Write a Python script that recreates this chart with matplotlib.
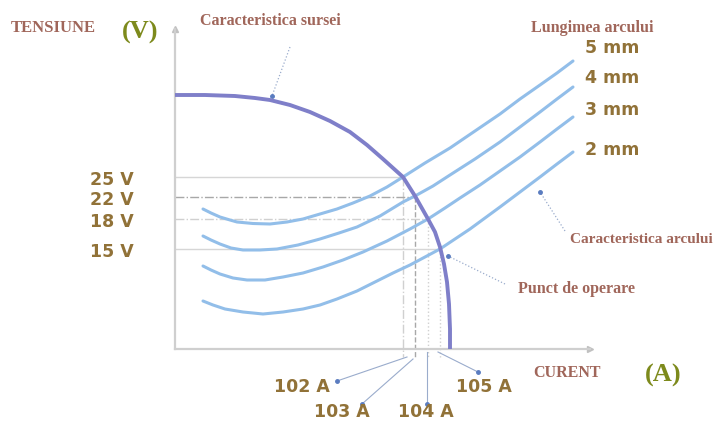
import matplotlib.pyplot as plt

# schematic units: x = current (arbitrary), y = voltage (arbitrary), origin at axes corner
source_x = [0, 30, 60, 80, 95, 115, 135, 155, 175, 192, 208, 218, 228, 240,
            253, 260, 265, 269, 272, 274, 275, 275]
source_y = [254, 254, 253, 251, 249, 244, 237, 228, 217, 204, 190, 181, 172, 153,
            130, 117, 102, 85, 67, 45, 20, 0]

arc_labels = ["5 mm", "4 mm", "3 mm", "2 mm"]
arc_x = [
    [28, 36, 45, 55, 62, 78, 95, 112, 128, 145, 162, 178, 195, 212, 228, 250,
     275, 300, 325, 345, 365, 382, 398],
    [28, 36, 45, 56, 68, 85, 102, 123, 145, 164, 182, 205, 228, 240, 258, 275,
     300, 325, 345, 365, 382, 398],
    [28, 36, 45, 58, 72, 90, 108, 128, 148, 168, 188, 212, 235, 253, 270, 285,
     305, 325, 345, 365, 382, 398],
    [28, 38, 50, 68, 88, 108, 128, 145, 162, 182, 202, 218, 235, 250, 265, 280,
     295, 310, 325, 345, 365, 382, 398],
]
arc_y = [
    [140, 136, 132, 129, 127, 125.5, 125, 127, 130, 135, 140, 146, 153, 162, 172,
     186, 201, 218, 235, 250, 264, 276, 288],
    [113, 109, 105, 101, 99, 99, 100, 104, 110, 116, 122, 133, 147, 153, 163, 174,
     190, 207, 222, 237, 250, 262],
    [83, 79, 75, 71, 69, 69, 72, 76, 82, 89, 97, 108, 120, 130, 141, 151,
     164, 178, 192, 207, 220, 232],
    [48, 44, 40, 37, 35, 37, 40, 44, 50, 58, 68, 76, 84, 92, 100, 110,
     120, 131, 142, 157, 172, 185, 197],
]

op_x = [228, 240, 253, 265]
op_y = [172, 152, 130, 100]
volt_labels = ["25 V", "22 V", "18 V", "15 V"]
amp_labels = ["102 A", "103 A", "104 A", "105 A"]

gold = "#917238"
brown = "#a0665a"
olive = "#7d8a1c"
lead = "#9aaccc"

fig = plt.figure(figsize=(7.18, 4.27), dpi=100)
ax = fig.add_axes([175 / 718, 77 / 427, 415 / 718, 320 / 427])
ax.set_xlim(0, 415)
ax.set_ylim(0, 320)

for s in ["top", "right"]:
    ax.spines[s].set_visible(False)
for s in ["left", "bottom"]:
    ax.spines[s].set_color("#cfcfcf")
    ax.spines[s].set_linewidth(1.6)
ax.plot([0], [320], marker="^", color="#c0c0c0", ms=5, clip_on=False)
ax.plot([415], [0], marker=">", color="#c0c0c0", ms=5, clip_on=False)

ax.set_xticks([])
ax.set_yticks(op_y)
ax.set_yticklabels(volt_labels, family="DejaVu Sans", weight="bold",
                   fontsize=12.5, color=gold)
ax.tick_params(axis="y", length=0, pad=30)

# guide lines
hstyles = [("#d6d6d6", "-"), ("#a8a8a8", "-."), ("#d0d0d0", "-."), ("#d6d6d6", "-")]
vstyles = [("#d0d0d0", "-."), ("#a8a8a8", "--"), ("#d0d0d0", ":"), ("#d0d0d0", ":")]
for i in range(4):
    ax.plot([0, op_x[i]], [op_y[i], op_y[i]], color=hstyles[i][0],
            ls=hstyles[i][1], lw=1.0, zorder=1)
    ax.plot([op_x[i], op_x[i]], [op_y[i], -8], color=vstyles[i][0],
            ls=vstyles[i][1], lw=1.0, zorder=1, clip_on=False)

for xs, ys in zip(arc_x, arc_y):
    ax.plot(xs, ys, color="#92bee9", lw=2.2, solid_capstyle="round", zorder=2)
ax.plot(source_x, source_y, color="#7f7fc9", lw=2.8, zorder=3)

serif = "Liberation Serif"
ax.text(-122, 322, "TENSIUNE", family=serif, weight="bold", fontsize=12,
        color=brown, ha="center", va="center")
ax.text(-35, 318, "(V)", family=serif, weight="bold", fontsize=19,
        color=olive, ha="center", va="center")
ax.text(95, 329, "Caracteristica sursei", family=serif, weight="bold",
        fontsize=11.5, color=brown, ha="center", va="center")
ax.text(417, 322, "Lungimea arcului", family=serif, weight="bold", fontsize=11.5,
        color=brown, ha="center", va="center")
ax.text(395, 110, "Caracteristica arcului", family=serif, weight="bold",
        fontsize=11, color=brown, ha="left", va="center")
ax.text(343, 61, "Punct de operare", family=serif, weight="bold", fontsize=11.5,
        color=brown, ha="left", va="center")
ax.text(392, -23, "CURENT", family=serif, weight="bold", fontsize=11.5,
        color=brown, ha="center", va="center")
ax.text(488, -25, "(A)", family=serif, weight="bold", fontsize=19,
        color=olive, ha="center", va="center")

for lab, y in zip(arc_labels, [302, 272, 240, 200]):
    ax.text(410, y, lab, family="DejaVu Sans", weight="bold", fontsize=12.5,
            color=gold, ha="left", va="center")

amp_pos = [(127, -37), (167, -62), (251, -62), (309, -37)]
amp_lead = [((232, -8), (162, -32)), ((238, -10), (187, -55)),
            ((252, -3), (252, -55)), ((263, -3), (303, -23))]
for lab, (tx, ty), (p0, p1) in zip(amp_labels, amp_pos, amp_lead):
    ax.text(tx, ty, lab, family="DejaVu Sans", weight="bold", fontsize=12.5,
            color=gold, ha="center", va="center")
    ax.plot([p0[0], p1[0]], [p0[1], p1[1]], color=lead, lw=0.8, clip_on=False)
    ax.plot([p1[0]], [p1[1]], "o", color="#5a7cc0", ms=2.5, clip_on=False)

# pointers to labels
pointers = [((115, 302), (97, 253)), ((390, 118), (365, 157)), ((330, 65), (273, 93))]
for p0, p1 in pointers:
    ax.plot([p0[0], p1[0]], [p0[1], p1[1]], color=lead, lw=0.9, ls=":",
            clip_on=False)
    ax.plot([p1[0]], [p1[1]], "o", color="#5a7cc0", ms=2.5, clip_on=False)

fig.savefig("out.png", dpi=100)
